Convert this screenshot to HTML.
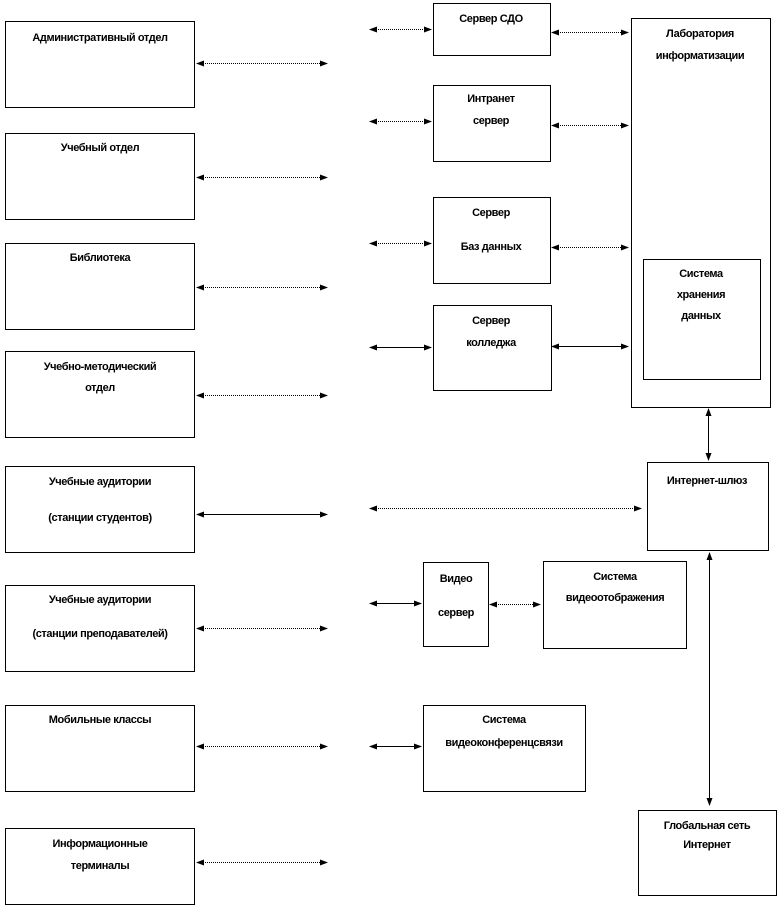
<!DOCTYPE html>
<html><head><meta charset="utf-8"><style>
body{margin:0;background:#fff}
svg text{font-family:"Liberation Sans",sans-serif;font-size:11px;font-weight:bold;text-anchor:middle;letter-spacing:-0.4px}
</style></head><body>
<svg width="781" height="906" viewBox="0 0 781 906" xmlns="http://www.w3.org/2000/svg">
<defs>
<marker id="a" markerWidth="8" markerHeight="6" refX="7" refY="3" orient="auto-start-reverse" markerUnits="userSpaceOnUse"><path d="M0,0L8,3L0,6z" fill="#000"/></marker>
</defs>
<g fill="none" stroke="#000" stroke-width="1">
<rect x="5.5" y="21.5" width="189" height="86"/>
<rect x="5.5" y="133.5" width="189" height="86"/>
<rect x="5.5" y="243.5" width="189" height="86"/>
<rect x="5.5" y="351.5" width="189" height="86"/>
<rect x="5.5" y="466.5" width="189" height="86"/>
<rect x="5.5" y="585.5" width="189" height="86"/>
<rect x="5.5" y="705.5" width="189" height="86"/>
<rect x="5.5" y="828.5" width="189" height="76"/>
<rect x="433.5" y="3.5" width="117" height="52"/>
<rect x="433.5" y="85.5" width="117" height="76"/>
<rect x="433.5" y="197.5" width="117" height="86"/>
<rect x="433.5" y="305.5" width="118" height="85"/>
<rect x="631.5" y="18.5" width="139" height="389"/>
<rect x="643.5" y="259.5" width="117" height="120"/>
<rect x="647.5" y="462.5" width="121" height="88"/>
<rect x="638.5" y="810.5" width="138" height="85"/>
<rect x="423.5" y="562.5" width="65" height="84"/>
<rect x="543.5" y="561.5" width="143" height="87"/>
<rect x="423.5" y="705.5" width="162" height="86"/>
</g>
<g stroke="#000" stroke-width="1" marker-start="url(#a)" marker-end="url(#a)">
<g stroke-dasharray="1,1">
<line x1="197" y1="63.5" x2="327" y2="63.5"/>
<line x1="197" y1="177.5" x2="327" y2="177.5"/>
<line x1="197" y1="287.5" x2="327" y2="287.5"/>
<line x1="197" y1="395.5" x2="327" y2="395.5"/>
<line x1="197" y1="628.5" x2="327" y2="628.5"/>
<line x1="197" y1="746.5" x2="327" y2="746.5"/>
<line x1="197" y1="862.5" x2="327" y2="862.5"/>
<line x1="370" y1="29.5" x2="431" y2="29.5"/>
<line x1="370" y1="121.5" x2="431" y2="121.5"/>
<line x1="370" y1="243.5" x2="431" y2="243.5"/>
<line x1="370" y1="508.5" x2="641" y2="508.5"/>
<line x1="552" y1="32.5" x2="628" y2="32.5"/>
<line x1="552" y1="125.5" x2="628" y2="125.5"/>
<line x1="552" y1="247.5" x2="628" y2="247.5"/>
<line x1="490" y1="604.5" x2="540" y2="604.5"/>
</g>
<line x1="197" y1="514.5" x2="327" y2="514.5"/>
<line x1="370" y1="347.5" x2="431" y2="347.5"/>
<line x1="552" y1="346.5" x2="628" y2="346.5"/>
<line x1="370" y1="603.5" x2="421" y2="603.5"/>
<line x1="370" y1="746.5" x2="421" y2="746.5"/>
<line x1="708.5" y1="409" x2="708.5" y2="460"/>
<line x1="709.5" y1="553" x2="709.5" y2="805"/>
</g>
<text x="100" y="41">Административный отдел</text>
<text x="100" y="151">Учебный отдел</text>
<text x="100" y="261">Библиотека</text>
<text x="100" y="370">Учебно-методический</text>
<text x="100" y="391">отдел</text>
<text x="100" y="485">Учебные аудитории</text>
<text x="100" y="521">(станции студентов)</text>
<text x="100" y="603">Учебные аудитории</text>
<text x="100" y="637">(станции преподавателей)</text>
<text x="100" y="723">Мобильные классы</text>
<text x="100" y="847">Информационные</text>
<text x="100" y="869">терминалы</text>
<text x="491" y="22">Сервер СДО</text>
<text x="491" y="102">Интранет</text>
<text x="491" y="124">сервер</text>
<text x="491" y="216">Сервер</text>
<text x="491" y="250">Баз данных</text>
<text x="491" y="324">Сервер</text>
<text x="491" y="346">колледжа</text>
<text x="700" y="37">Лаборатория</text>
<text x="700" y="59">информатизации</text>
<text x="701" y="277">Система</text>
<text x="701" y="298">хранения</text>
<text x="701" y="319">данных</text>
<text x="707" y="484">Интернет-шлюз</text>
<text x="707" y="829">Глобальная сеть</text>
<text x="707" y="848">Интернет</text>
<text x="456" y="582">Видео</text>
<text x="456" y="616">сервер</text>
<text x="615" y="580">Система</text>
<text x="615" y="601">видеоотображения</text>
<text x="504" y="723">Система</text>
<text x="504" y="746">видеоконференцсвязи</text>
</svg>
</body></html>
